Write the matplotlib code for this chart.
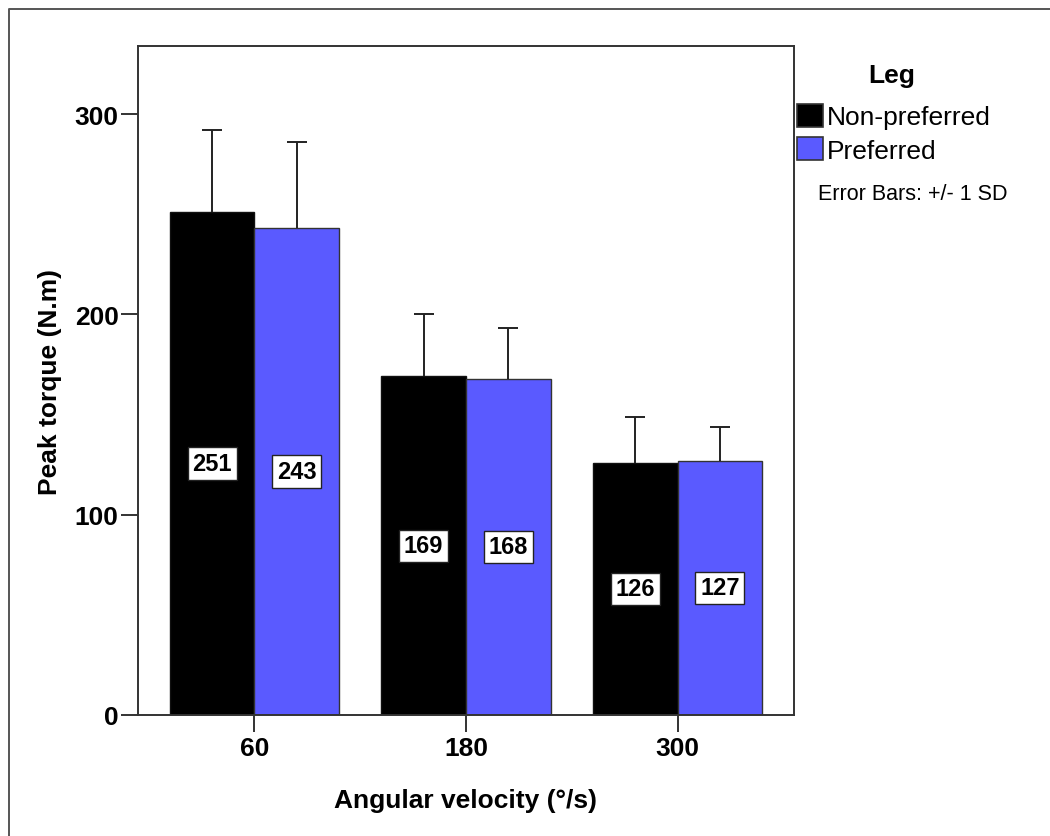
import matplotlib.pyplot as plt
import numpy as np
from matplotlib.patches import Patch
from matplotlib.lines import Line2D

plt.rcParams['font.family'] = ['Liberation Sans', 'DejaVu Sans']

# Peak torque by angular velocity and leg
velocities = ['60', '180', '300']
non_preferred = [251, 169, 126]
preferred = [243, 168, 127]
sd_non_preferred = [41, 31, 23]
sd_preferred = [43, 25, 17]

black = '#000000'
blue = '#5a5aff'

# Create the canvas and coordinate system
fig = plt.figure(figsize=(10.5, 8.37), dpi=100)
ax = fig.add_axes([0.1314, 0.1446, 0.6248, 0.7992])

x = np.arange(len(velocities))
w = 0.4
err_kw = dict(ecolor='#222222', elinewidth=1.4, capsize=7.5, capthick=1.4)

# Draw the bars with upper error bars only
b1 = ax.bar(x - w / 2, non_preferred, w, color=black, edgecolor='#111111', linewidth=1,
            yerr=[np.zeros(3), sd_non_preferred], error_kw=err_kw, zorder=2)
b2 = ax.bar(x + w / 2, preferred, w, color=blue, edgecolor='#333333', linewidth=1,
            yerr=[np.zeros(3), sd_preferred], error_kw=err_kw, zorder=2)

# hide the caps sitting on the bar tops (lower side of the error bars)
for bars, vals in [(b1, non_preferred), (b2, preferred)]:
    for cap in bars.errorbar.lines[1]:
        if np.allclose(cap.get_ydata(), vals):
            cap.set_visible(False)

# Value labels in white boxes at half height
for bars, vals in [(b1, non_preferred), (b2, preferred)]:
    for rect, v in zip(bars, vals):
        ax.text(rect.get_x() + rect.get_width() / 2, v / 2, str(v), ha='center', va='center',
                fontsize=17, fontweight='bold', zorder=4,
                bbox=dict(boxstyle='square,pad=0.2', facecolor='white', edgecolor='#222222', linewidth=1))

# Set the axis
ax.set_xlim(-0.55, 2.55)
ax.set_ylim(0, 334)
ax.set_xticks(x)
ax.set_xticklabels(velocities)
ax.set_yticks([0, 100, 200, 300])
ax.tick_params(axis='both', direction='out', length=12, width=1.4, color='#333333', labelsize=19)
ax.tick_params(axis='x', pad=3)
ax.tick_params(axis='y', pad=2)
for lab in ax.get_xticklabels() + ax.get_yticklabels():
    lab.set_fontweight('bold')
for s in ax.spines.values():
    s.set_linewidth(1.4)
    s.set_color('#333333')

# Axis labels
ax.set_xlabel('Angular velocity (°/s)', fontsize=19, fontweight='bold')
ax.xaxis.set_label_coords(0.5, -0.1086)
ax.set_ylabel('Peak torque (N.m)', fontsize=19, fontweight='bold')
ax.yaxis.set_label_coords(-0.116, 0.5)

# Legend
handles = [Patch(facecolor=black, edgecolor='#333333', linewidth=1.2),
           Patch(facecolor=blue, edgecolor='#333333', linewidth=1.2)]
fig.text(892 / 1050, 1 - 76 / 837, 'Leg', fontsize=19, fontweight='bold', ha='center', va='center')
leg = fig.legend(handles, ['Non-preferred', 'Preferred'], loc='upper left',
                 bbox_to_anchor=(797 / 1050, 1 - 105 / 837), frameon=False, fontsize=19,
                 handlelength=1.0, handleheight=0.95, handletextpad=0.15,
                 labelspacing=0.3, borderpad=0, borderaxespad=0)
fig.text(818 / 1050, 1 - 195 / 837, 'Error Bars: +/- 1 SD', fontsize=15.5, ha='left', va='center')

# Outer frame (top and left edges visible)
fig.add_artist(Line2D([9 / 1050, 9 / 1050, 1.0], [0.0, 1 - 10 / 837, 1 - 10 / 837],
                      transform=fig.transFigure, color='#555555', linewidth=1.4))

plt.savefig('out.png', dpi=100)
